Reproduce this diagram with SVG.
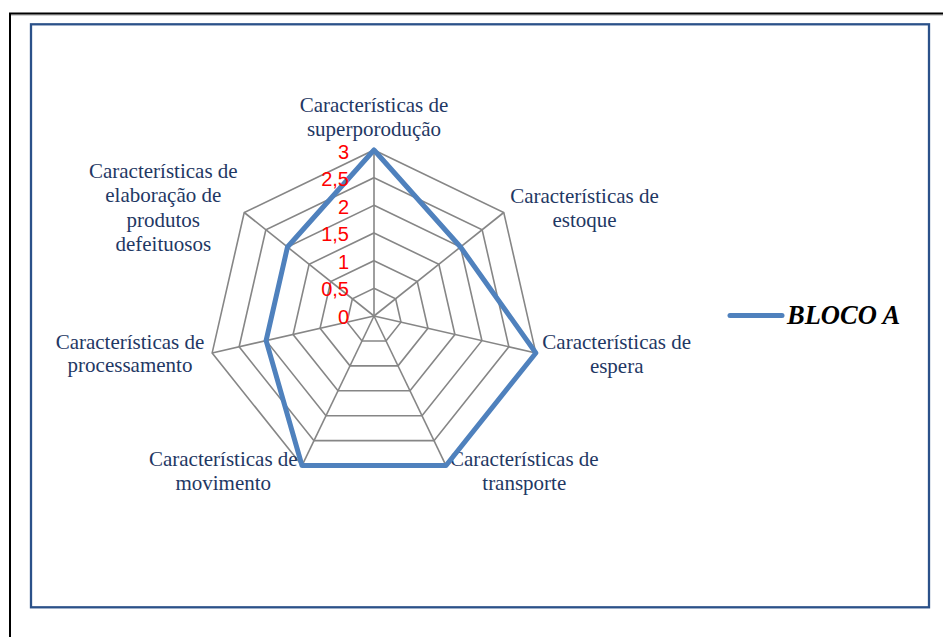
<svg xmlns="http://www.w3.org/2000/svg" width="943" height="637" viewBox="0 0 943 637">
<style>
.grid{fill:none;stroke:#868686;stroke-width:1.6;stroke-linejoin:miter}
.spoke{stroke:#868686;stroke-width:1.6}
.series{fill:none;stroke:#4F81BD;stroke-width:5;stroke-linejoin:round;stroke-linecap:round}
.cat{font-family:"Liberation Serif","Times New Roman",serif;font-size:21px;fill:#1F3864;text-anchor:middle}
.ax{font-family:"Liberation Sans",Arial,sans-serif;font-size:20px;fill:#FF0000;text-anchor:end}
.leg{font-family:"Liberation Serif","Times New Roman",serif;font-size:26.5px;font-weight:bold;font-style:italic;fill:#000000}
</style>
<rect x="0" y="0" width="943" height="637" fill="#FFFFFF"/>
<g id="frame">
<line x1="10" y1="15.2" x2="943" y2="15.2" stroke="#C0C0C0" stroke-width="1.2"/>
<path d="M10,637 V13.5 H943" fill="none" stroke="#000000" stroke-width="2"/>
<rect x="31" y="24.3" width="898" height="583" fill="none" stroke="#2B5189" stroke-width="2.3"/>
</g>
<g id="grid">
<polygon class="grid" points="374,288.33 395.63,298.75 400.97,322.16 386,340.93 362,340.93 347.03,322.16 352.37,298.75"/>
<polygon class="grid" points="374,260.67 417.26,281.5 427.95,328.31 398.01,365.85 349.99,365.85 320.05,328.31 330.74,281.5"/>
<polygon class="grid" points="374,233 438.89,264.25 454.92,334.47 410.01,390.78 337.99,390.78 293.08,334.47 309.11,264.25"/>
<polygon class="grid" points="374,205.33 460.52,247 481.89,340.63 422.02,415.71 325.98,415.71 266.11,340.63 287.48,247"/>
<polygon class="grid" points="374,177.67 482.15,229.75 508.87,346.78 434.02,440.63 313.98,440.63 239.13,346.78 265.85,229.75"/>
<polygon class="grid" points="374,150 503.78,212.5 535.84,352.94 446.02,465.56 301.98,465.56 212.16,352.94 244.22,212.5"/>
<line class="spoke" x1="374" y1="316" x2="374" y2="150"/>
<line class="spoke" x1="374" y1="316" x2="503.78" y2="212.5"/>
<line class="spoke" x1="374" y1="316" x2="535.84" y2="352.94"/>
<line class="spoke" x1="374" y1="316" x2="446.02" y2="465.56"/>
<line class="spoke" x1="374" y1="316" x2="301.98" y2="465.56"/>
<line class="spoke" x1="374" y1="316" x2="212.16" y2="352.94"/>
<line class="spoke" x1="374" y1="316" x2="244.22" y2="212.5"/>
</g>
<g id="label-superproducao">
<text class="cat" x="374" y="112">Características de</text>
<text class="cat" x="374" y="135.5">superporodução</text>
</g>
<g id="label-estoque">
<text class="cat" x="584.5" y="203.3">Características de</text>
<text class="cat" x="584.5" y="226.8">estoque</text>
</g>
<g id="label-espera">
<text class="cat" x="616.7" y="349">Características de</text>
<text class="cat" x="616.7" y="372.5">espera</text>
</g>
<g id="label-transporte">
<text class="cat" x="524.3" y="465.5">Características de</text>
<text class="cat" x="524.3" y="490">transporte</text>
</g>
<g id="label-movimento">
<text class="cat" x="223.3" y="465.5">Características de</text>
<text class="cat" x="223.3" y="490">movimento</text>
</g>
<g id="label-processamento">
<text class="cat" x="130" y="349">Características de</text>
<text class="cat" x="130" y="372">processamento</text>
</g>
<g id="label-elaboracao">
<text class="cat" x="163.3" y="177.5">Características de</text>
<text class="cat" x="163.3" y="202">elaboração de</text>
<text class="cat" x="163.3" y="226.5">produtos</text>
<text class="cat" x="163.3" y="251">defeituosos</text>
</g>
<g id="connectors">
<polygon id="series-bloco-a" class="series" points="374,150 460.52,247 535.84,352.94 446.02,465.56 301.98,465.56 266.11,340.63 287.48,247"/>
</g>
<g id="axis-labels">
<text class="ax" x="349" y="158.8">3</text>
<text class="ax" x="349" y="186.2">2,5</text>
<text class="ax" x="349" y="213.8">2</text>
<text class="ax" x="349" y="241.2">1,5</text>
<text class="ax" x="349" y="268.8">1</text>
<text class="ax" x="349" y="296.2">0,5</text>
<text class="ax" x="349" y="323.8">0</text>
</g>
<g id="legend">
<line x1="730" y1="315.5" x2="782" y2="315.5" stroke="#4F81BD" stroke-width="5" stroke-linecap="round"/>
<text class="leg" x="787" y="324">BLOCO A</text>
</g>
</svg>
